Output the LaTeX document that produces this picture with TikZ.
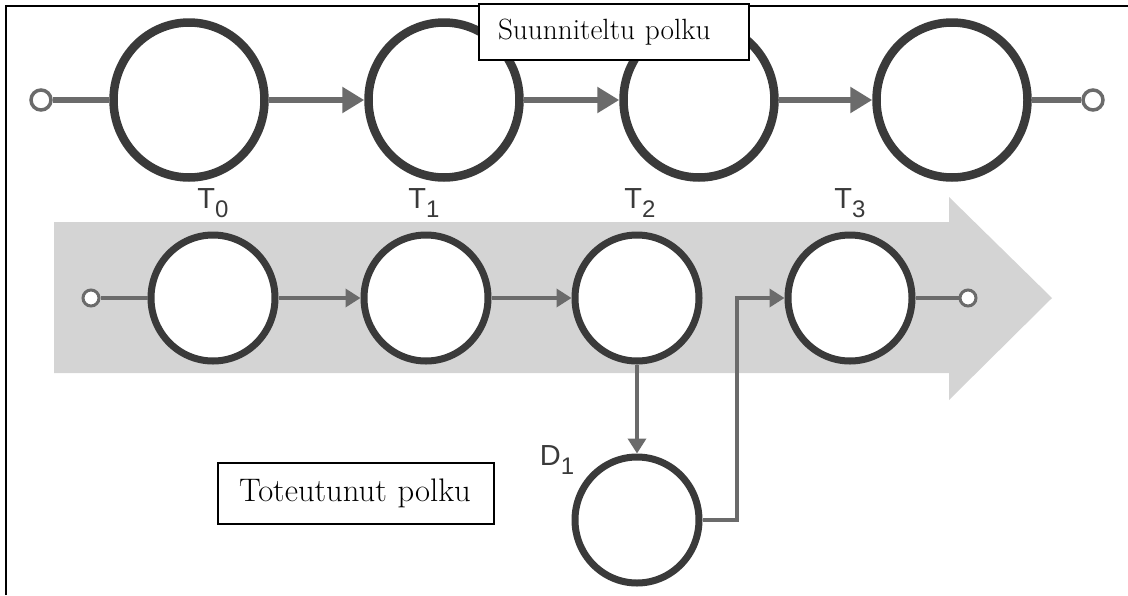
\documentclass[tikz,border=0pt]{standalone}
\usepackage{fontspec}
\newfontfamily\labfont{Liberation Sans}
\usetikzlibrary{arrows.meta,shapes.geometric}
\definecolor{ringgray}{HTML}{3A3A3A}
\definecolor{linegray}{HTML}{6B6B6B}
\definecolor{bandgray}{HTML}{D4D4D4}
\newcommand{\sublab}[2]{#1\raisebox{-9pt}{\fontsize{24}{24}\selectfont #2}}
\tikzset{
  bigring/.style={ellipse, draw=ringgray, fill=white, line width=8.5pt, minimum width=151pt, minimum height=155pt, inner sep=0pt},
  midring/.style={ellipse, draw=ringgray, fill=white, line width=7pt, minimum width=124pt, minimum height=126pt, inner sep=0pt},
  bigend/.style={circle, draw=linegray, fill=white, line width=3.5pt, minimum size=20pt, inner sep=0pt},
  midend/.style={circle, draw=linegray, fill=white, line width=3pt, minimum size=16pt, inner sep=0pt},
  topline/.style={draw=linegray, line width=5.5pt},
  toparrow/.style={topline, -{Triangle[length=22pt,width=25pt]}},
  midline/.style={draw=linegray, line width=3.5pt},
  midarrow/.style={midline, -{Triangle[length=15pt,width=18pt]}},
  tlab/.style={font=\labfont\fontsize{29}{29}\selectfont, text=ringgray, anchor=base, inner sep=0pt},
  textbox/.style={draw=black, fill=white, line width=1.3pt, align=left, inner ysep=0pt}
}
\begin{document}
\begin{tikzpicture}[x=1pt,y=-1pt]
\useasboundingbox (0,0) rectangle (1128,595);
% border
\draw[line width=2.5pt] (6,595) -- (6,6) -- (1128,6);
% band arrow
\fill[bandgray] (54,222) -- (949,222) -- (949,197) -- (1052,298) -- (949,400) -- (949,373) -- (54,373) -- cycle;
% top row
\node[bigend] (s1) at (41,100) {};
\node[bigring] (p1) at (189,100) {};
\node[bigring] (p2) at (444,100) {};
\node[bigring] (p3) at (699,100) {};
\node[bigring] (p4) at (952,100) {};
\node[bigend] (s2) at (1093,100) {};
\draw[topline] (s1) -- (p1);
\draw[toparrow] (p1) -- (p2);
\draw[toparrow] (p2) -- (p3);
\draw[toparrow] (p3) -- (p4);
\draw[topline] (p4) -- (s2);
% labels
\node[tlab] (t0) at (213,208) {\sublab{T}{0}};
\node[tlab] (t1) at (424,208) {\sublab{T}{1}};
\node[tlab] (t2) at (640,208) {\sublab{T}{2}};
\node[tlab] (t3) at (850,208) {\sublab{T}{3}};
\node[tlab] (dl) at (557,465) {\sublab{D}{1}};
% middle row
\node[midend] (s3) at (91,298) {};
\node[midring] (m1) at (213,298) {};
\node[midring] (m2) at (426,298) {};
\node[midring] (m3) at (637,298) {};
\node[midring] (m4) at (850,298) {};
\node[midend] (s4) at (968,298) {};
\node[midring] (d1) at (637,520) {};
\coordinate (bend) at (737,0);
\draw[midline] (s3) -- (m1);
\draw[midarrow] (m1) -- (m2);
\draw[midarrow] (m2) -- (m3);
\draw[midline] (m4) -- (s4);
\draw[midarrow] (m3.south) -- (d1.north);
\draw[midarrow] (d1.east) -- (d1.east -| bend) -- (bend |- m4.west) -- (m4.west);
% text boxes
\node[textbox, font=\fontsize{29.3}{32}\selectfont, text width=232pt, inner xsep=19pt, minimum height=56pt] (plan) at (614,32) {Suunniteltu polku};
\node[textbox, font=\fontsize{32.6}{35}\selectfont, text width=234pt, inner xsep=21pt, minimum height=61pt] (real) at (356,493.5) {Toteutunut polku};
\end{tikzpicture}
\end{document}
